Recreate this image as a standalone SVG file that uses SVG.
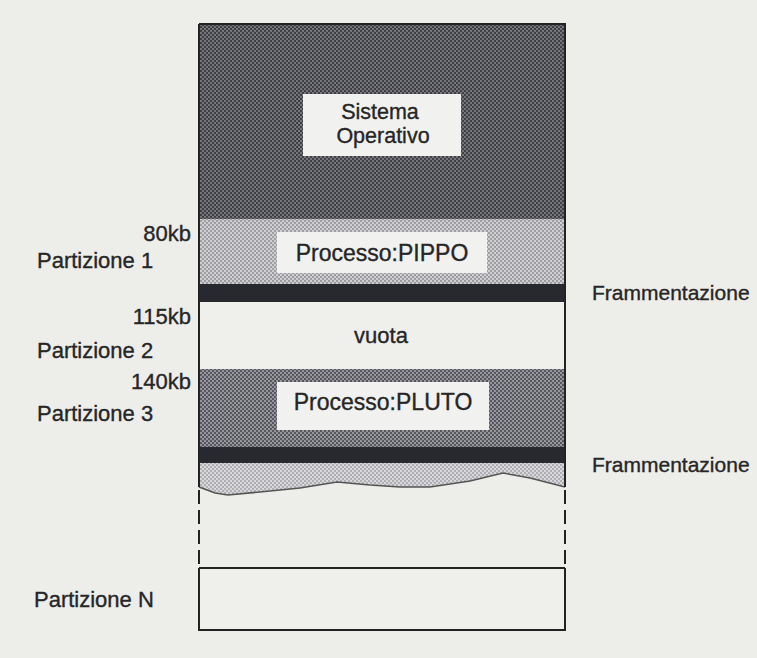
<svg xmlns="http://www.w3.org/2000/svg" width="757" height="658" viewBox="0 0 757 658">
<defs>
<pattern id="patOS" width="4" height="4" patternUnits="userSpaceOnUse">
<rect width="4" height="4" fill="#3f3f46"/>
<circle cx="1" cy="1" r="0.9" fill="#8e8e92"/>
<circle cx="3" cy="3" r="0.9" fill="#8e8e92"/>
</pattern>
<pattern id="patP1" width="4" height="4" patternUnits="userSpaceOnUse">
<rect width="4" height="4" fill="#cfcfd2"/>
<circle cx="1" cy="1" r="0.9" fill="#85858c"/>
<circle cx="3" cy="3" r="0.9" fill="#85858c"/>
</pattern>
<pattern id="patP3" width="4" height="4" patternUnits="userSpaceOnUse">
<rect width="4" height="4" fill="#56565e"/>
<circle cx="1" cy="1" r="0.9" fill="#b4b4b8"/>
<circle cx="3" cy="3" r="0.9" fill="#b4b4b8"/>
</pattern>
<pattern id="patFr" width="4" height="4" patternUnits="userSpaceOnUse">
<rect width="4" height="4" fill="#d8d8da"/>
<circle cx="1" cy="1" r="0.9" fill="#9a9aa2"/>
<circle cx="3" cy="3" r="0.9" fill="#9a9aa2"/>
</pattern>
</defs>
<style>
text{font-family:"Liberation Sans",Arial,Helvetica,sans-serif;font-size:22px;fill:#262626;stroke:#262626;stroke-width:0.35}
.big{font-size:23px}
.os{font-size:21.5px}
.fr{font-size:21px}
.mid{text-anchor:middle}
.end{text-anchor:end}
.box{fill:#f1f1ef;stroke:none}
.band{fill:#28282f}
.edge{fill:none;stroke:#222;stroke-width:2}
.dash{fill:none;stroke:#222;stroke-width:2;stroke-dasharray:14 6}
</style>
<rect width="757" height="658" fill="#ededea"/>

<g id="sistema-operativo">
<rect x="199" y="24" width="366" height="195" fill="url(#patOS)"/>
<rect class="box" x="303" y="94" width="158" height="62"/>
<text class="mid os" x="380" y="119">Sistema</text>
<text class="mid os" x="383" y="143">Operativo</text>
</g>

<g id="partizione-1">
<rect x="199" y="219" width="366" height="65" fill="url(#patP1)"/>
<rect class="box" x="277" y="232" width="210" height="41"/>
<text class="mid big" x="382" y="261">Processo:PIPPO</text>
<rect class="band" x="199" y="284" width="366" height="18"/>
<text class="end" x="191" y="241">80kb</text>
<text x="37" y="268">Partizione 1</text>
</g>

<g id="frammentazione-1">
<text class="fr" x="592" y="300">Frammentazione</text>
</g>

<g id="partizione-2">
<rect x="199" y="302" width="366" height="67" fill="#efefec"/>
<text class="mid" x="381" y="343">vuota</text>
<text class="end" x="191" y="324">115kb</text>
<text x="37" y="358">Partizione 2</text>
</g>

<g id="partizione-3">
<rect x="199" y="369" width="366" height="78" fill="url(#patP3)"/>
<rect class="box" x="277" y="382" width="212" height="48"/>
<text class="mid big" x="383" y="410">Processo:PLUTO</text>
<rect class="band" x="199" y="447" width="366" height="16"/>
<path d="M199 463 H565 V487 L530 478 L503 473 L470 481 L430 487 L400 487 L370 485 L337 482 L300 488 L260 492 L228 495 L215 493 L199 487 Z" fill="url(#patFr)"/>
<path d="M199 487 L215 493 L228 495 L260 492 L300 488 L337 482 L370 485 L400 487 L430 487 L470 481 L503 473 L530 478 L565 487" fill="none" stroke="#555" stroke-width="1.5"/>
<text class="end" x="191" y="389">140kb</text>
<text x="37" y="421">Partizione 3</text>
</g>

<g id="frammentazione-2">
<text class="fr" x="592" y="472">Frammentazione</text>
</g>

<g id="partizione-n">
<rect x="199" y="568" width="366" height="62" fill="#efefec"/>
<text x="34" y="607">Partizione N</text>
</g>

<g id="outline">
<path class="edge" d="M199 24 H565 V487 M199 24 V487"/>
<path class="dash" d="M199 490 V568 M565 490 V568"/>
<path class="edge" d="M199 568 H565 M199 568 V630 H565 V568"/>
</g>

<g id="connectors"></g>
</svg>
